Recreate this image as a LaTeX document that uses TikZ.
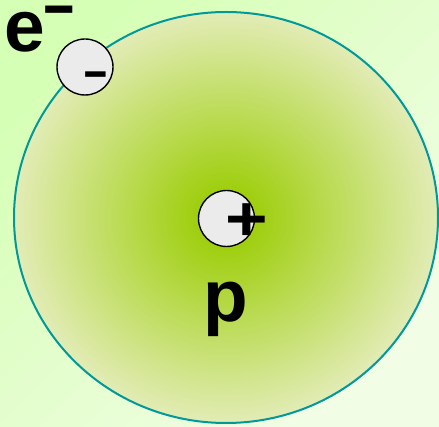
\documentclass[tikz,border=0pt]{standalone}
\usepackage{fontspec}
\setmainfont{Liberation Sans}
\definecolor{bgdark}{HTML}{D6FFB6}
\definecolor{bglight}{HTML}{F2FDE6}
\definecolor{cin}{HTML}{99CC00}
\definecolor{cout}{HTML}{E2ECB6}
\definecolor{rim}{HTML}{009999}
\definecolor{ball}{HTML}{EBEBEB}
\pgfdeclareradialshading{atomshade}{\pgfpoint{0bp}{0bp}}{color(0bp)=(cin); color(3bp)=(cin!94!cout); color(25bp)=(cout); color(50bp)=(cout)}
\tikzset{
  glyph/.style={inner sep=0pt, outer sep=0pt, anchor=base, text height=0.55em, text depth=0pt, font=\bfseries\fontsize{73}{80}\selectfont},
  dashglyph/.style={glyph, xscale=1.75, text height=0.34em},
  particle/.style={circle, draw=black, line width=1.4pt, fill=ball, minimum size=56pt, inner sep=0pt}
}
\begin{document}
\begin{tikzpicture}[x=1pt,y=-1pt]
\useasboundingbox (0,0) rectangle (439,427);
\shade[top color=bgdark, bottom color=bglight, shading angle=45] (0,0) rectangle (439,427);
\shade[shading=atomshade] (226,217.5) ellipse [x radius=212, y radius=205.5];
\draw[rim, line width=2pt] (226,217.5) ellipse [x radius=212, y radius=205.5];
\node[particle] (el) at (85,67) {};
\node[particle] (pr) at (226.5,218.5) {};
\node[glyph] (e) at (24.5,51.5) {e};
\node[dashglyph, font=\bfseries\fontsize{61}{70}\selectfont] (esup) at (59,25.4) {-};
\node[dashglyph, font=\bfseries\fontsize{46}{50}\selectfont] (eminus) at (95.5,86.3) {-};
\node[glyph, yscale=0.86] (plus) at (247,241) {+};
\node[glyph, text depth=0.21em] (p) at (226,322) {p};
\end{tikzpicture}
\end{document}
